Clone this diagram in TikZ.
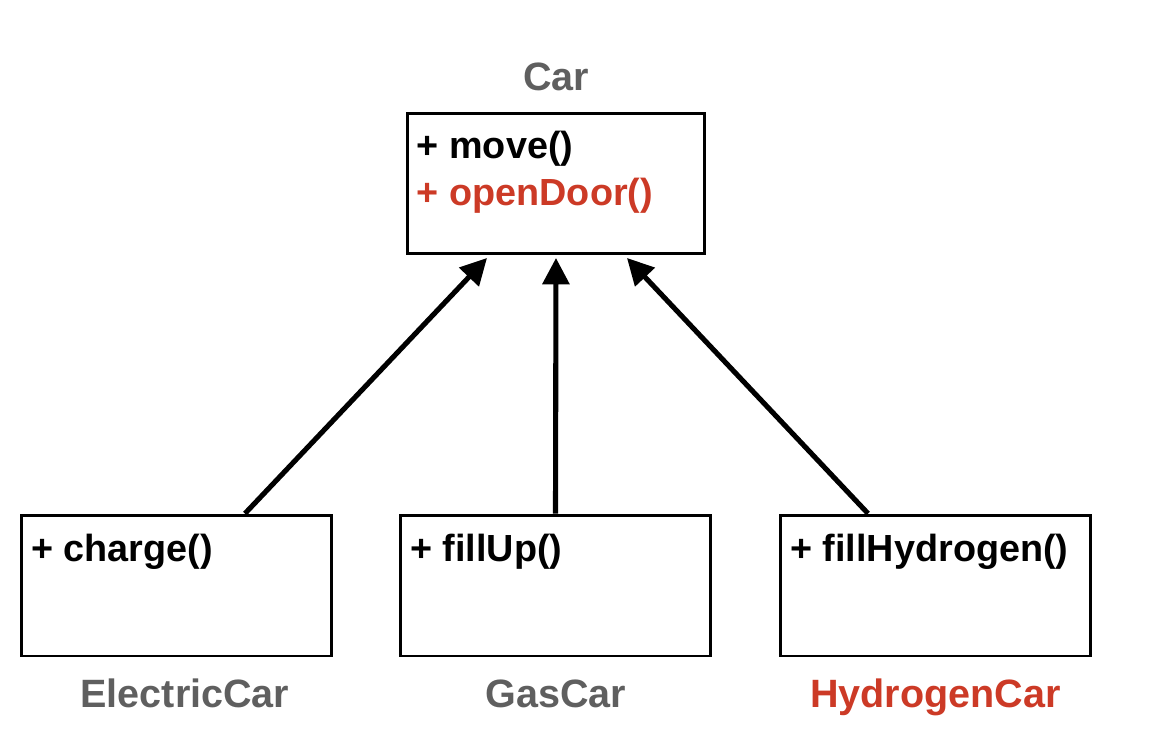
\documentclass[tikz,border=0pt]{standalone}
\usepackage{fontspec}
\setmainfont{Liberation Sans}
\usetikzlibrary{arrows.meta, positioning}
\definecolor{labelgray}{RGB}{95,95,95}
\definecolor{labelred}{RGB}{204,58,38}

\begin{document}
\begin{tikzpicture}[
    x=0.02cm, y=-0.02cm,
    classbox/.style={rectangle, draw=black, line width=1.7pt, minimum width=6.2cm, minimum height=2.82cm, inner sep=0pt},
    basebox/.style={classbox, minimum width=5.96cm},
    method/.style={anchor=base west, inner sep=0pt, font=\fontsize{21.5}{25}\selectfont\bfseries},
    class name/.style={anchor=base, inner sep=0pt, font=\fontsize{22.5}{26}\selectfont\bfseries, text=labelgray},
    inherits/.style={-{Triangle[length=15pt, width=15pt]}, line width=2.9pt}
]
    \useasboundingbox (0,0) rectangle (1161,738);

    % Base class
    \node[basebox] (car) at (556,183.5) {};
    \node[class name] (car label) at (556,90) {Car};
    \node[method] (move) at ([xshift=0.22cm, yshift=-0.94cm]car.north west) {+ move()};
    \node[method, text=labelred] (open door) at ([yshift=-0.94cm]move.base west) {+ openDoor()};

    % Subclasses
    \node[classbox] (electric) at (176.5,585.5) {};
    \node[classbox] (gas) at (555.5,585.5) {};
    \node[classbox] (hydrogen) at (935.5,585.5) {};

    \node[class name] (electric label) at (185,707) {ElectricCar};
    \node[class name] (gas label) at (556,707) {GasCar};
    \node[class name, text=labelred] (hydrogen label) at (935.5,707) {HydrogenCar};

    \node[method] (charge) at ([xshift=0.22cm, yshift=-0.96cm]electric.north west) {+ charge()};
    \node[method] (fill up) at ([xshift=0.22cm, yshift=-0.96cm]gas.north west) {+ fillUp()};
    \node[method] (fill hydrogen) at ([xshift=0.22cm, yshift=-0.96cm]hydrogen.north west) {+ fillHydrogen()};

    % Inheritance
    \draw[inherits] ([xshift=1.37cm]electric.north) -- ([xshift=-1.38cm, yshift=-0.05cm]car.south);
    \draw[inherits] (gas.north) -- ([yshift=-0.05cm]car.south);
    \draw[inherits] ([xshift=-1.35cm]hydrogen.north) -- ([xshift=1.42cm, yshift=-0.05cm]car.south);
\end{tikzpicture}
\end{document}
